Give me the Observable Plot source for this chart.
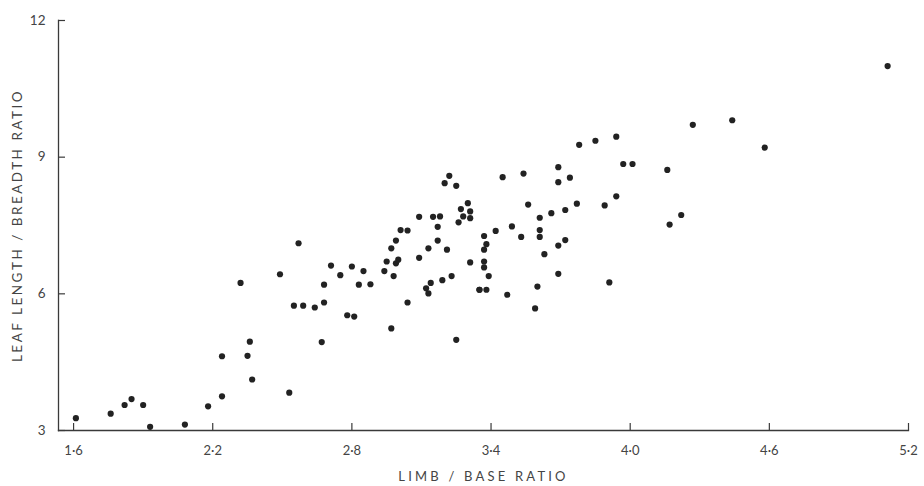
<!DOCTYPE html>
<html>
<head>
<meta charset="utf-8">
<script src="https://cdn.jsdelivr.net/npm/d3@7"></script>
<script src="https://cdn.jsdelivr.net/npm/@observablehq/plot@0.6"></script>
<style>
  html, body { margin: 0; padding: 0; background: #fff; }
  #chart svg { display: block; }
  #chart [aria-label="y-axis label"] text { letter-spacing: 2.5px; }
  #chart [aria-label="x-axis label"] text { letter-spacing: 3.2px; }
</style>
</head>
<body>
<div id="chart"></div>
<script>
// Limb/base ratio (x) and leaf length/breadth ratio (y) for each specimen
const limbBase = [
  1.61, 1.76, 1.82, 1.85, 1.90, 1.93, 2.08, 2.18, 2.24, 2.24,
  2.35, 2.37, 2.36, 2.53, 2.67, 2.32, 2.57, 2.97, 2.99, 3.13,
  3.17, 3.21, 2.49, 2.71, 2.80, 2.75, 2.85, 2.95, 2.99, 3.00,
  3.09, 2.94, 2.98, 3.31, 2.68, 2.83, 2.88, 3.14, 3.12, 3.13,
  3.19, 3.23, 3.35, 2.55, 2.59, 2.64, 2.68, 2.78, 2.81, 3.04,
  2.97, 3.25, 3.78, 3.22, 3.20, 3.25, 3.45, 3.54, 3.69, 3.69,
  3.74, 3.30, 3.27, 3.31, 3.31, 3.28, 3.26, 3.56, 3.77, 3.09,
  3.15, 3.18, 3.17, 3.61, 3.66, 3.72, 3.01, 3.04, 3.49, 3.37,
  3.42, 3.53, 3.61, 3.61, 3.69, 3.72, 3.38, 3.37, 3.37, 3.37,
  3.39, 3.63, 3.69, 3.35, 3.38, 3.47, 3.60, 3.59, 3.85, 3.94,
  3.97, 4.01, 4.16, 3.94, 3.89, 4.22, 4.17, 3.91, 4.27, 4.44,
  4.58, 5.11
];
const leafRatio = [
  3.27, 3.37, 3.56, 3.69, 3.56, 3.08, 3.13, 3.53, 3.75, 4.63,
  4.64, 4.12, 4.95, 3.83, 4.94, 6.24, 7.11, 7.00, 7.17, 7.00,
  7.17, 6.97, 6.43, 6.62, 6.60, 6.41, 6.50, 6.71, 6.67, 6.75,
  6.79, 6.50, 6.39, 6.69, 6.20, 6.20, 6.21, 6.24, 6.12, 6.01,
  6.30, 6.39, 6.09, 5.74, 5.74, 5.70, 5.81, 5.53, 5.50, 5.81,
  5.24, 4.99, 9.27, 8.59, 8.43, 8.37, 8.56, 8.64, 8.78, 8.45,
  8.55, 7.99, 7.86, 7.81, 7.66, 7.70, 7.57, 7.96, 7.98, 7.69,
  7.69, 7.70, 7.47, 7.67, 7.77, 7.84, 7.40, 7.39, 7.48, 7.27,
  7.38, 7.25, 7.40, 7.25, 7.06, 7.18, 7.09, 6.97, 6.71, 6.58,
  6.39, 6.87, 6.44, 6.09, 6.09, 5.98, 6.16, 5.68, 9.36, 9.45,
  8.85, 8.85, 8.72, 8.14, 7.94, 7.73, 7.52, 6.25, 9.71, 9.81,
  9.21, 11.00
];

const xTicks = [1.6, 2.2, 2.8, 3.4, 4.0, 4.6, 5.2];
const yTicks = [3, 6, 9, 12];
const xTitle = "LIMB / BASE RATIO";
const yTitle = "LEAF LENGTH / BREADTH RATIO";

const points = limbBase.map((x, i) => ({x, y: leafRatio[i]}));
const fmt = d => d.toFixed(1).replace(".", "\u00B7");

const W = 924, H = 486;
const mL = 58, mR = 16, mT = 20, mB = 56;
const tickLen = 7;
const frameW = W - mL - mR, frameH = H - mT - mB;
const axisColor = "#3a3a3a";

const chart = Plot.plot({
  width: W,
  height: H,
  marginLeft: mL,
  marginRight: mR,
  marginTop: mT,
  marginBottom: mB,
  style: {
    fontFamily: "Lato, 'DejaVu Sans', sans-serif",
    fontSize: "12px",
    color: "#444",
    background: "#fff"
  },
  x: {domain: [1.535, 5.2]},
  y: {domain: [3, 12]},
  marks: [
    Plot.frame({anchor: "bottom", stroke: axisColor, strokeWidth: 1.3}),
    Plot.frame({anchor: "left", stroke: axisColor, strokeWidth: 1.3}),
    Plot.tickX(xTicks, {x: d => d, insetTop: frameH - tickLen, stroke: axisColor, strokeWidth: 1.2}),
    Plot.tickY(yTicks, {y: d => d, insetRight: frameW - tickLen, stroke: axisColor, strokeWidth: 1.2}),
    Plot.axisX({
      ticks: xTicks,
      tickFormat: fmt,
      tickSize: 0,
      tickPadding: 15,
      fill: "#444",
      label: xTitle,
      labelAnchor: "center",
      labelArrow: "none",
      labelOffset: 50,
      fontSize: 13
    }),
    Plot.axisY({
      ticks: yTicks,
      tickFormat: d => String(d),
      tickSize: 0,
      tickPadding: 13,
      fill: "#444",
      label: yTitle,
      labelAnchor: "center",
      labelArrow: "none",
      labelOffset: 46,
      fontSize: 13.5
    }),
    Plot.dot(points, {x: "x", y: "y", r: 3.1, fill: "#222", stroke: "none"})
  ]
});

document.getElementById("chart").appendChild(chart);
</script>
</body>
</html>
